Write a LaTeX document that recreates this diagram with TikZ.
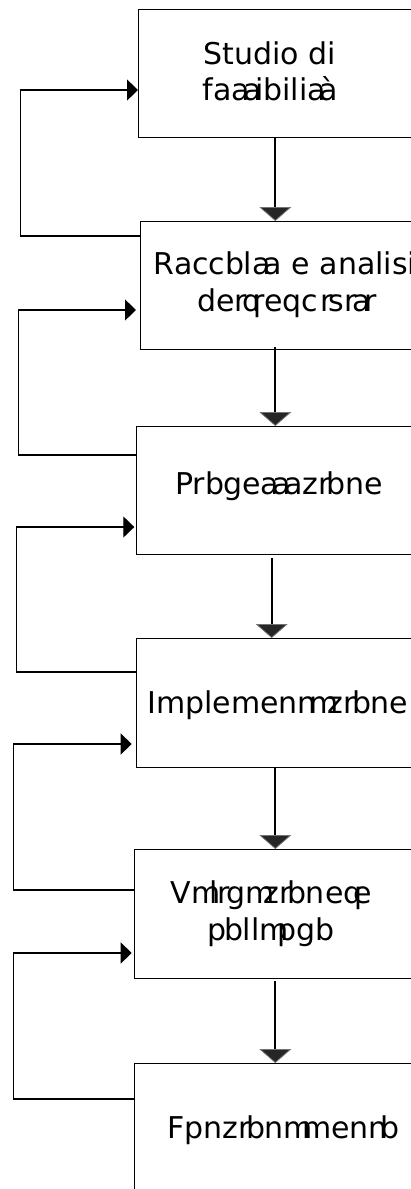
\documentclass[tikz,border=0pt]{standalone}
\usepackage{fontspec}
\setmainfont{DejaVu Sans}
\usetikzlibrary{arrows.meta}
\newcommand\gl[2]{\setbox0\hbox{#2}\hbox to \wd0{#1\hss}}
\begin{document}
\begin{tikzpicture}[x=1pt,y=-1pt,
  box/.style={draw=black, line width=1.3pt, minimum width=285pt, minimum height=128pt,
    inner sep=0pt, anchor=north west},
  txt/.style={inner sep=0pt, anchor=base, align=center, font=\fontsize{30}{36.5}\selectfont},
  down/.style={line width=2pt, -{Triangle[width=32pt,length=14pt,fill=black!85,color=black!55,line width=0.8pt]}},
  fb/.style={line width=1.3pt, -{Triangle[width=21pt,length=11pt]}}]
\useasboundingbox (0,0) rectangle (411,1189);
\fill[white] (0,0) rectangle (411,1189);

\node[box] (b1) at (138,9) {};
\node[box] (b2) at (140,221) {};
\node[box] (b3) at (135.5,426) {};
\node[box, minimum height=129pt] (b4) at (135.5,638) {};
\node[box, minimum height=129pt] (b5) at (133.5,849) {};
\node[box, minimum height=129pt] (b6) at (133.5,1063) {};

\node[txt] (t1) at (270,100.5) {Studio di\\fa\gl{a}{t}\gl{a}{t}ibili\gl{a}{t}à};
\node[txt] (t2) at (285,311) {Racc\gl{b}{o}l\gl{a}{t}a e analisi\\de\gl{r}{i}\gl{q}{\ }req\gl{c}{u}\gl{r}{i}s\gl{r}{i}\gl{a}{t}\gl{r}{i}};
\node[txt] (t3) at (279,494.3) {Pr\gl{b}{o}ge\gl{a}{t}\gl{a}{t}az\gl{r}{i}\gl{b}{o}ne};
\node[txt] (t4) at (277.5,713.3) {Implemen\gl{n}{t}\gl{m}{a}z\gl{r}{i}\gl{b}{o}ne};
\node[txt] (t5) at (271,940) {V\gl{m}{a}l\gl{r}{i}\gl{g}{d}\gl{m}{a}z\gl{r}{i}\gl{b}{o}ne\gl{q}{\ }e\\\gl{p}{c}\gl{b}{o}ll\gl{m}{a}\gl{p}{u}\gl{g}{d}\gl{b}{o}};
\node[txt] (t6) at (283,1138.3) {F\gl{p}{u}nz\gl{r}{i}\gl{b}{o}n\gl{m}{a}men\gl{n}{t}\gl{b}{o}};

\coordinate (c1) at (275.3,0);
\coordinate (c3) at (271.7,0);
\draw[down] (b1.south -| c1) -- (b2.north -| c1);
\draw[down] ([yshift=3pt]b2.south -| c1) -- (b3.north -| c1);
\draw[down] ([yshift=-3pt]b3.south -| c3) -- (b4.north -| c3);
\draw[down] (b4.south -| c1) -- (b5.north -| c1);
\draw[down] ([yshift=-2pt]b5.south -| c1) -- (b6.north -| c1);

\draw[fb] ([yshift=-15pt]b2.north west) -- ++(-119.3,0) |- ([yshift=-81pt]b1.north west);
\draw[fb] ([yshift=-29pt]b3.north west) -- ++(-117.2,0) |- ([xshift=-4pt,yshift=-89pt]b2.north west);
\draw[fb] ([yshift=-34pt]b4.north west) -- ++(-118.8,0) |- ([xshift=-1.2pt,yshift=-101pt]b3.north west);
\draw[fb] ([yshift=-41pt]b5.north west) -- ++(-120.2,0) |- ([xshift=-3.8pt,yshift=-106pt]b4.north west);
\draw[fb] ([yshift=-36pt]b6.north west) -- ++(-120.2,0) |- ([xshift=-1.8pt,yshift=-104pt]b5.north west);
\end{tikzpicture}
\end{document}
